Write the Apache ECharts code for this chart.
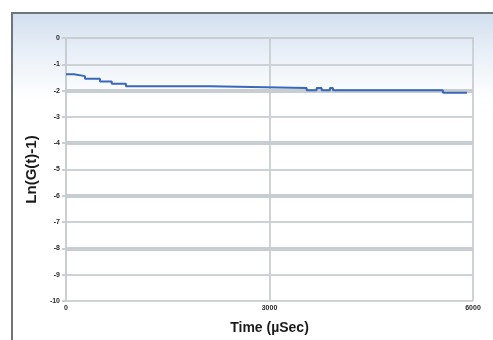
<!DOCTYPE html>
<html>
<head>
<meta charset="utf-8">
<script src="https://cdn.jsdelivr.net/npm/echarts@6/dist/echarts.min.js"></script>
<style>
  html, body { margin: 0; padding: 0; background: #ffffff; }
  #frame {
    position: absolute; left: 11px; top: 12px; width: 490px; height: 340px;
    border-left: 2px solid #6f7479; border-top: 2px solid #6f7479;
    background: linear-gradient(to bottom, #d3e0ef 0px, #e9f0f8 40px, #ffffff 85px, #ffffff 100%);
  }
  #chart { position: absolute; left: 0; top: 0; width: 493px; height: 340px; }
</style>
</head>
<body>
<div id="frame"></div>
<div id="chart"></div>
<script>
// Time (µs) at which each level starts, and the level value (step plot)
const timeUs = [0, 118, 280, 501, 674, 884, 2123, 3548, 3695, 3769, 3891, 3936, 5557, 5911];
const lnG    = [-1.38, -1.45, -1.55, -1.65, -1.74, -1.83, -1.90, -1.99, -1.90, -1.99, -1.90, -1.99, -2.08, -2.08];
const xTicks = [0, 3000, 6000];
const yTicks = [0, -1, -2, -3, -4, -5, -6, -7, -8, -9, -10];
const heavyGrid = [-2, -4, -6, -8];

const chart = echarts.init(document.getElementById('chart'), null, { renderer: 'canvas' });
const labelFont = { fontFamily: 'Liberation Sans', fontSize: 7, fontWeight: 'bold', color: '#2a2a2a' };

chart.setOption({
  backgroundColor: 'transparent',
  animation: false,
  grid: { left: 66, right: 20, top: 38, bottom: 35 },
  xAxis: {
    type: 'value',
    min: xTicks[0], max: xTicks[xTicks.length - 1], interval: xTicks[1] - xTicks[0],
    name: 'Time (µSec)', nameLocation: 'middle', nameGap: 20,
    nameTextStyle: { fontFamily: 'Liberation Sans', fontSize: 14, fontWeight: 'bold', color: '#1a1a1a' },
    axisLine: { show: true, lineStyle: { color: '#c9ced3', width: 2 } },
    axisTick: { show: true, length: 5, lineStyle: { color: '#c9ced3', width: 2 } },
    axisLabel: Object.assign({ margin: 4, formatter: v => String(v) }, labelFont),
    splitLine: { show: true, lineStyle: { color: '#cdd2d6', width: 2 } }
  },
  yAxis: {
    type: 'value',
    min: yTicks[yTicks.length - 1], max: yTicks[0], interval: 1,
    name: 'Ln(G(t)-1)', nameLocation: 'middle', nameGap: 24, nameRotate: 90,
    nameTextStyle: { fontFamily: 'Liberation Sans', fontSize: 15, fontWeight: 'bold', color: '#1a1a1a' },
    axisLine: { show: true, lineStyle: { color: '#c9ced3', width: 2 } },
    axisTick: { show: true, length: 4, lineStyle: { color: '#c9ced3', width: 2 } },
    axisLabel: Object.assign({ margin: 6 }, labelFont),
    splitLine: { show: true, lineStyle: { color: '#cdd2d6', width: 2 } }
  },
  series: [{
    type: 'line',
    step: 'end',
    data: timeUs.map((t, i) => [t, lnG[i]]),
    showSymbol: false,
    lineStyle: { color: '#3a68b8', width: 2 },
    z: 5,
    markLine: {
      silent: true, symbol: 'none', label: { show: false },
      lineStyle: { color: '#c8cdd2', width: 4, type: 'solid' },
      data: heavyGrid.map(v => ({ yAxis: v }))
    }
  }]
});
</script>
</body>
</html>
